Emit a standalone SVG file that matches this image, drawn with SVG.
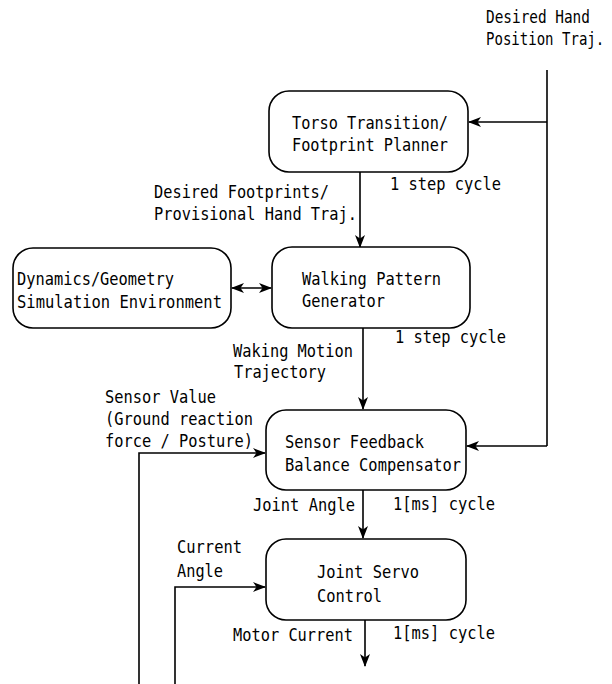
<svg xmlns="http://www.w3.org/2000/svg" width="612" height="684" viewBox="0 0 612 684">
  <style>
    text { font-family: "DejaVu Sans Mono", "Liberation Mono", monospace; font-size: 18px; fill: #000; }
    .node rect { fill: #fff; stroke: #000; stroke-width: 1.6; }
    .wire { fill: none; stroke: #000; stroke-width: 1.6; }
  </style>
  <defs>
    <marker id="arr" viewBox="0 0 13 10" refX="12" refY="5" markerWidth="13" markerHeight="10" markerUnits="userSpaceOnUse" orient="auto-start-reverse">
      <path d="M0,0 L13,5 L0,10 L3.5,5 Z" fill="#000"/>
    </marker>
  </defs>

  <!-- connectors -->
  <g id="connectors">
    <!-- desired hand trajectory feed -->
    <path class="wire" d="M547,70 V446"/>
    <path class="wire" d="M547,122 H469" marker-end="url(#arr)"/>
    <path class="wire" d="M547,446 H467" marker-end="url(#arr)"/>
    <!-- planner to pattern generator -->
    <path class="wire" d="M360,172 V247" marker-end="url(#arr)"/>
    <!-- simulation link -->
    <path class="wire" d="M232,288 H271" marker-start="url(#arr)" marker-end="url(#arr)"/>
    <!-- pattern generator to compensator -->
    <path class="wire" d="M363,328 V409" marker-end="url(#arr)"/>
    <!-- sensor feedback -->
    <path class="wire" d="M139,684 V453 H265" marker-end="url(#arr)"/>
    <!-- compensator to servo -->
    <path class="wire" d="M363,490 V538" marker-end="url(#arr)"/>
    <!-- current angle feedback -->
    <path class="wire" d="M175,684 V587 H265" marker-end="url(#arr)"/>
    <!-- motor current out -->
    <path class="wire" d="M365,620 V666" marker-end="url(#arr)"/>
  </g>

  <g id="planner" class="node">
    <rect x="269" y="91" width="199" height="81" rx="20"/>
    <text x="292" y="129" textLength="156" lengthAdjust="spacingAndGlyphs">Torso Transition/</text>
    <text x="292" y="151" textLength="156" lengthAdjust="spacingAndGlyphs">Footprint Planner</text>
  </g>

  <g id="simulation" class="node">
    <rect x="13" y="248" width="218" height="80" rx="20"/>
    <text x="17" y="285" textLength="157" lengthAdjust="spacingAndGlyphs">Dynamics/Geometry</text>
    <text x="17" y="308" textLength="205" lengthAdjust="spacingAndGlyphs">Simulation Environment</text>
  </g>

  <g id="pattern" class="node">
    <rect x="272" y="247" width="198" height="81" rx="20"/>
    <text x="302" y="285" textLength="139" lengthAdjust="spacingAndGlyphs">Walking Pattern</text>
    <text x="302" y="307" textLength="83" lengthAdjust="spacingAndGlyphs">Generator</text>
  </g>

  <g id="compensator" class="node">
    <rect x="266" y="410" width="200" height="80" rx="20"/>
    <text x="285" y="448" textLength="139" lengthAdjust="spacingAndGlyphs">Sensor Feedback</text>
    <text x="285" y="471" textLength="176" lengthAdjust="spacingAndGlyphs">Balance Compensator</text>
  </g>

  <g id="servo" class="node">
    <rect x="266" y="539" width="200" height="81" rx="20"/>
    <text x="317" y="578" textLength="102" lengthAdjust="spacingAndGlyphs">Joint Servo</text>
    <text x="317" y="602" textLength="65" lengthAdjust="spacingAndGlyphs">Control</text>
  </g>

  <!-- signal labels -->
  <g id="labels">
    <text transform="translate(486,23) scale(0.8,1)">Desired Hand</text>
    <text transform="translate(486,45) scale(0.78,1)">Position Traj.</text>
    <text x="390" y="190" textLength="111" lengthAdjust="spacingAndGlyphs">1 step cycle</text>
    <text x="154" y="198" textLength="175" lengthAdjust="spacingAndGlyphs">Desired Footprints/</text>
    <text x="154" y="220" textLength="203" lengthAdjust="spacingAndGlyphs">Provisional Hand Traj.</text>
    <text x="395" y="343" textLength="111" lengthAdjust="spacingAndGlyphs">1 step cycle</text>
    <text x="233" y="357" textLength="120" lengthAdjust="spacingAndGlyphs">Waking Motion</text>
    <text x="234" y="378" textLength="92" lengthAdjust="spacingAndGlyphs">Trajectory</text>
    <text x="105" y="403" textLength="111" lengthAdjust="spacingAndGlyphs">Sensor Value</text>
    <text x="105" y="425" textLength="148" lengthAdjust="spacingAndGlyphs">(Ground reaction</text>
    <text x="105" y="447" textLength="148" lengthAdjust="spacingAndGlyphs">force / Posture)</text>
    <text x="253" y="511" textLength="102" lengthAdjust="spacingAndGlyphs">Joint Angle</text>
    <text x="393" y="510" textLength="102" lengthAdjust="spacingAndGlyphs">1[ms] cycle</text>
    <text x="177" y="553" textLength="65" lengthAdjust="spacingAndGlyphs">Current</text>
    <text x="177" y="577" textLength="46" lengthAdjust="spacingAndGlyphs">Angle</text>
    <text x="233" y="641" textLength="120" lengthAdjust="spacingAndGlyphs">Motor Current</text>
    <text x="393" y="639" textLength="102" lengthAdjust="spacingAndGlyphs">1[ms] cycle</text>
  </g>
</svg>
